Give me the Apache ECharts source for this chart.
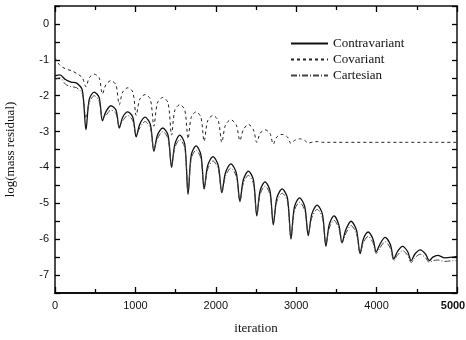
<!DOCTYPE html>
<html>
<head>
<meta charset="utf-8">
<script src="https://cdn.jsdelivr.net/npm/echarts@6/dist/echarts.min.js"></script>
<style>
  html, body { margin: 0; padding: 0; background: #fff; }
  #chart { width: 466px; height: 340px; }
</style>
</head>
<body>
<div id="chart"></div>
<script>
// x positions (dips, shoulders and peaks of each oscillation)
const iteration = [
  0, 60, 130, 200, 270, 340,
  385, 426, 487, 549,
  590, 632, 695, 758,
  800, 842, 905, 968,
  1010, 1054, 1120, 1186,
  1230, 1274, 1340, 1406,
  1450, 1491, 1552, 1614,
  1655, 1695, 1755, 1815,
  1855, 1899, 1965, 2031,
  2075, 2120, 2187, 2255,
  2300, 2342, 2405, 2468,
  2510, 2551, 2612, 2674,
  2715, 2759, 2825, 2891,
  2935, 2978, 3042, 3107,
  3150, 3194, 3260, 3326,
  3370, 3410, 3470, 3530,
  3570, 3615, 3682, 3750,
  3795, 3835, 3895, 3955,
  3995, 4039, 4105, 4171,
  4215, 4258, 4322, 4387,
  4430, 4475, 4542, 4610,
  4655, 4700, 4760, 4850, 4950, 5000
]

const contravariant = [
  -1.45, -1.42, -1.55, -1.62, -1.65, -1.85,
  -2.95, -2.1, -1.9, -2.05,
  -2.7, -2.45, -2.28, -2.4,
  -2.9, -2.6, -2.45, -2.6,
  -3.15, -2.8, -2.6, -2.8,
  -3.55, -3.1, -2.9, -3.1,
  -4.0, -3.35, -3.1, -3.35,
  -4.75, -3.65, -3.4, -3.65,
  -4.6, -3.95, -3.7, -3.95,
  -4.7, -4.15, -3.9, -4.15,
  -4.95, -4.35, -4.1, -4.35,
  -5.35, -4.65, -4.4, -4.65,
  -5.6, -4.85, -4.6, -4.85,
  -6.0, -5.1, -4.85, -5.1,
  -5.9, -5.3, -5.05, -5.3,
  -6.2, -5.6, -5.35, -5.6,
  -6.1, -5.75, -5.5, -5.75,
  -6.4, -6.0, -5.8, -6.0,
  -6.35, -6.15, -5.95, -6.15,
  -6.55, -6.35, -6.2, -6.35,
  -6.6, -6.42, -6.3, -6.42,
  -6.6, -6.5, -6.45, -6.52, -6.5, -6.48
]

const covariant = [
  -0.95, -1.15, -1.25, -1.3, -1.38, -1.5,
  -1.75, -1.5, -1.4, -1.5,
  -1.95, -1.7, -1.58, -1.7,
  -2.25, -1.9, -1.78, -1.9,
  -2.55, -2.1, -1.97, -2.1,
  -2.85, -2.2, -2.05, -2.2,
  -3.1, -2.4, -2.25, -2.4,
  -3.2, -2.6, -2.45, -2.6,
  -3.27, -2.7, -2.55, -2.7,
  -3.3, -2.82, -2.67, -2.82,
  -3.25, -2.95, -2.8, -2.95,
  -3.3, -3.05, -2.95, -3.05,
  -3.35, -3.15, -3.08, -3.15,
  -3.33, -3.25, -3.2, -3.25,
  -3.32, -3.3, -3.28, -3.3,
  -3.3, -3.3, -3.3, -3.3,
  -3.3, -3.3, -3.3, -3.3,
  -3.3, -3.3, -3.3, -3.3,
  -3.3, -3.3, -3.3, -3.3,
  -3.3, -3.3, -3.3, -3.3,
  -3.3, -3.3, -3.3, -3.3,
  -3.3, -3.3, -3.3, -3.3, -3.3, -3.3
]

const cartesian = [
  -1.55, -1.5, -1.68, -1.75, -1.78, -1.95,
  -2.6, -2.2, -2.0, -2.15,
  -2.6, -2.55, -2.4, -2.5,
  -2.85, -2.7, -2.55, -2.7,
  -3.1, -2.9, -2.72, -2.9,
  -3.5, -3.2, -3.0, -3.2,
  -3.95, -3.45, -3.22, -3.45,
  -4.7, -3.75, -3.52, -3.75,
  -4.6, -4.05, -3.82, -4.05,
  -4.7, -4.25, -4.02, -4.25,
  -4.95, -4.45, -4.22, -4.45,
  -5.3, -4.75, -4.52, -4.75,
  -5.55, -4.95, -4.72, -4.95,
  -5.95, -5.2, -4.97, -5.2,
  -5.85, -5.4, -5.17, -5.4,
  -6.15, -5.7, -5.47, -5.7,
  -6.1, -5.85, -5.62, -5.85,
  -6.4, -6.1, -5.92, -6.1,
  -6.4, -6.25, -6.07, -6.25,
  -6.6, -6.45, -6.32, -6.45,
  -6.65, -6.52, -6.42, -6.52,
  -6.65, -6.6, -6.58, -6.62, -6.6, -6.6
]

const serif = '"Liberation Serif", "DejaVu Serif", serif'
const sans = '"Liberation Sans", Arial, sans-serif'

const zip = (vals) => iteration.map((x, i) => [x, vals[i]])

const chart = echarts.init(document.getElementById('chart'), null, { renderer: 'canvas' })

const frameLine = { show: true, onZero: false, lineStyle: { color: '#111', width: 1.5 } }
const tickStyle = { color: '#000', width: 1.3 }

// ticks every 0.5, labels only on whole numbers
const yBase = (pos, labels) => ({
  type: 'value',
  position: pos,
  min: -7.5,
  max: 0.5,
  interval: 0.5,
  splitLine: { show: false },
  axisLine: frameLine,
  axisTick: { show: true, inside: true, length: 5, lineStyle: tickStyle },
  axisLabel: labels
    ? {
        show: true,
        margin: 6,
        fontFamily: sans,
        fontSize: 11,
        color: '#111',
        formatter: (v) => (Number.isInteger(v) && v <= 0 ? String(v) : '')
      }
    : { show: false }
})

const option = {
  animation: false,
  grid: { left: 55, right: 9, top: 6, bottom: 47, containLabel: false, outerBoundsMode: 'none' },
  legend: {
    orient: 'vertical',
    left: 290,
    top: 37,
    padding: 0,
    itemWidth: 37,
    itemHeight: 10,
    itemGap: 3,
    itemStyle: { opacity: 0 },
    textStyle: { fontFamily: serif, fontSize: 13, color: '#111' },
    data: ['Contravariant', 'Covariant', 'Cartesian']
  },
  xAxis: [
    {
      type: 'value',
      min: 0,
      max: 5000,
      interval: 1000,
      name: 'iteration',
      nameLocation: 'middle',
      nameGap: 29,
      nameTextStyle: { fontFamily: serif, fontSize: 13, color: '#111' },
      splitLine: { show: false },
      axisLine: { show: true, onZero: false, lineStyle: { color: '#111', width: 2 } },
      axisTick: { show: true, inside: true, length: 6, lineStyle: tickStyle },
      minorTick: { show: true, splitNumber: 2, length: 4, lineStyle: tickStyle },
      axisLabel: {
        margin: 7,
        fontFamily: sans,
        fontSize: 11,
        color: '#111',
        formatter: (v) => (v === 5000 ? '{b|5000}' : String(v)),
        rich: { b: { fontFamily: sans, fontSize: 11, fontWeight: 'bold', color: '#111', padding: [0, 8, 0, 0] } }
      }
    },
    {
      type: 'value',
      position: 'top',
      min: 0,
      max: 5000,
      interval: 1000,
      splitLine: { show: false },
      axisLine: frameLine,
      axisTick: { show: true, inside: true, length: 6, lineStyle: tickStyle },
      minorTick: { show: true, splitNumber: 2, length: 4, lineStyle: tickStyle },
      axisLabel: { show: false }
    }
  ],
  yAxis: [
    Object.assign(yBase('left', true), {
      name: 'log(mass residual)',
      nameLocation: 'middle',
      nameGap: 38,
      nameTextStyle: { fontFamily: serif, fontSize: 13, color: '#111' }
    }),
    yBase('right', false)
  ],
  series: [
    {
      name: 'Contravariant',
      type: 'line',
      data: zip(contravariant),
      showSymbol: false,
      symbol: 'none',
      smooth: 0.3,
      lineStyle: { color: '#111', width: 1.3, type: 'solid' },
      itemStyle: { color: '#111' }
    },
    {
      name: 'Covariant',
      type: 'line',
      data: zip(covariant),
      showSymbol: false,
      symbol: 'none',
      smooth: 0.3,
      lineStyle: { color: '#222', width: 1, type: [3, 3] },
      itemStyle: { color: '#222' }
    },
    {
      name: 'Cartesian',
      type: 'line',
      data: zip(cartesian),
      showSymbol: false,
      symbol: 'none',
      smooth: 0.3,
      lineStyle: { color: '#444', width: 1, type: [6, 2, 1, 2] },
      itemStyle: { color: '#444' }
    }
  ]
}

chart.setOption(option)
window.addEventListener('resize', () => chart.resize())
</script>
</body>
</html>
